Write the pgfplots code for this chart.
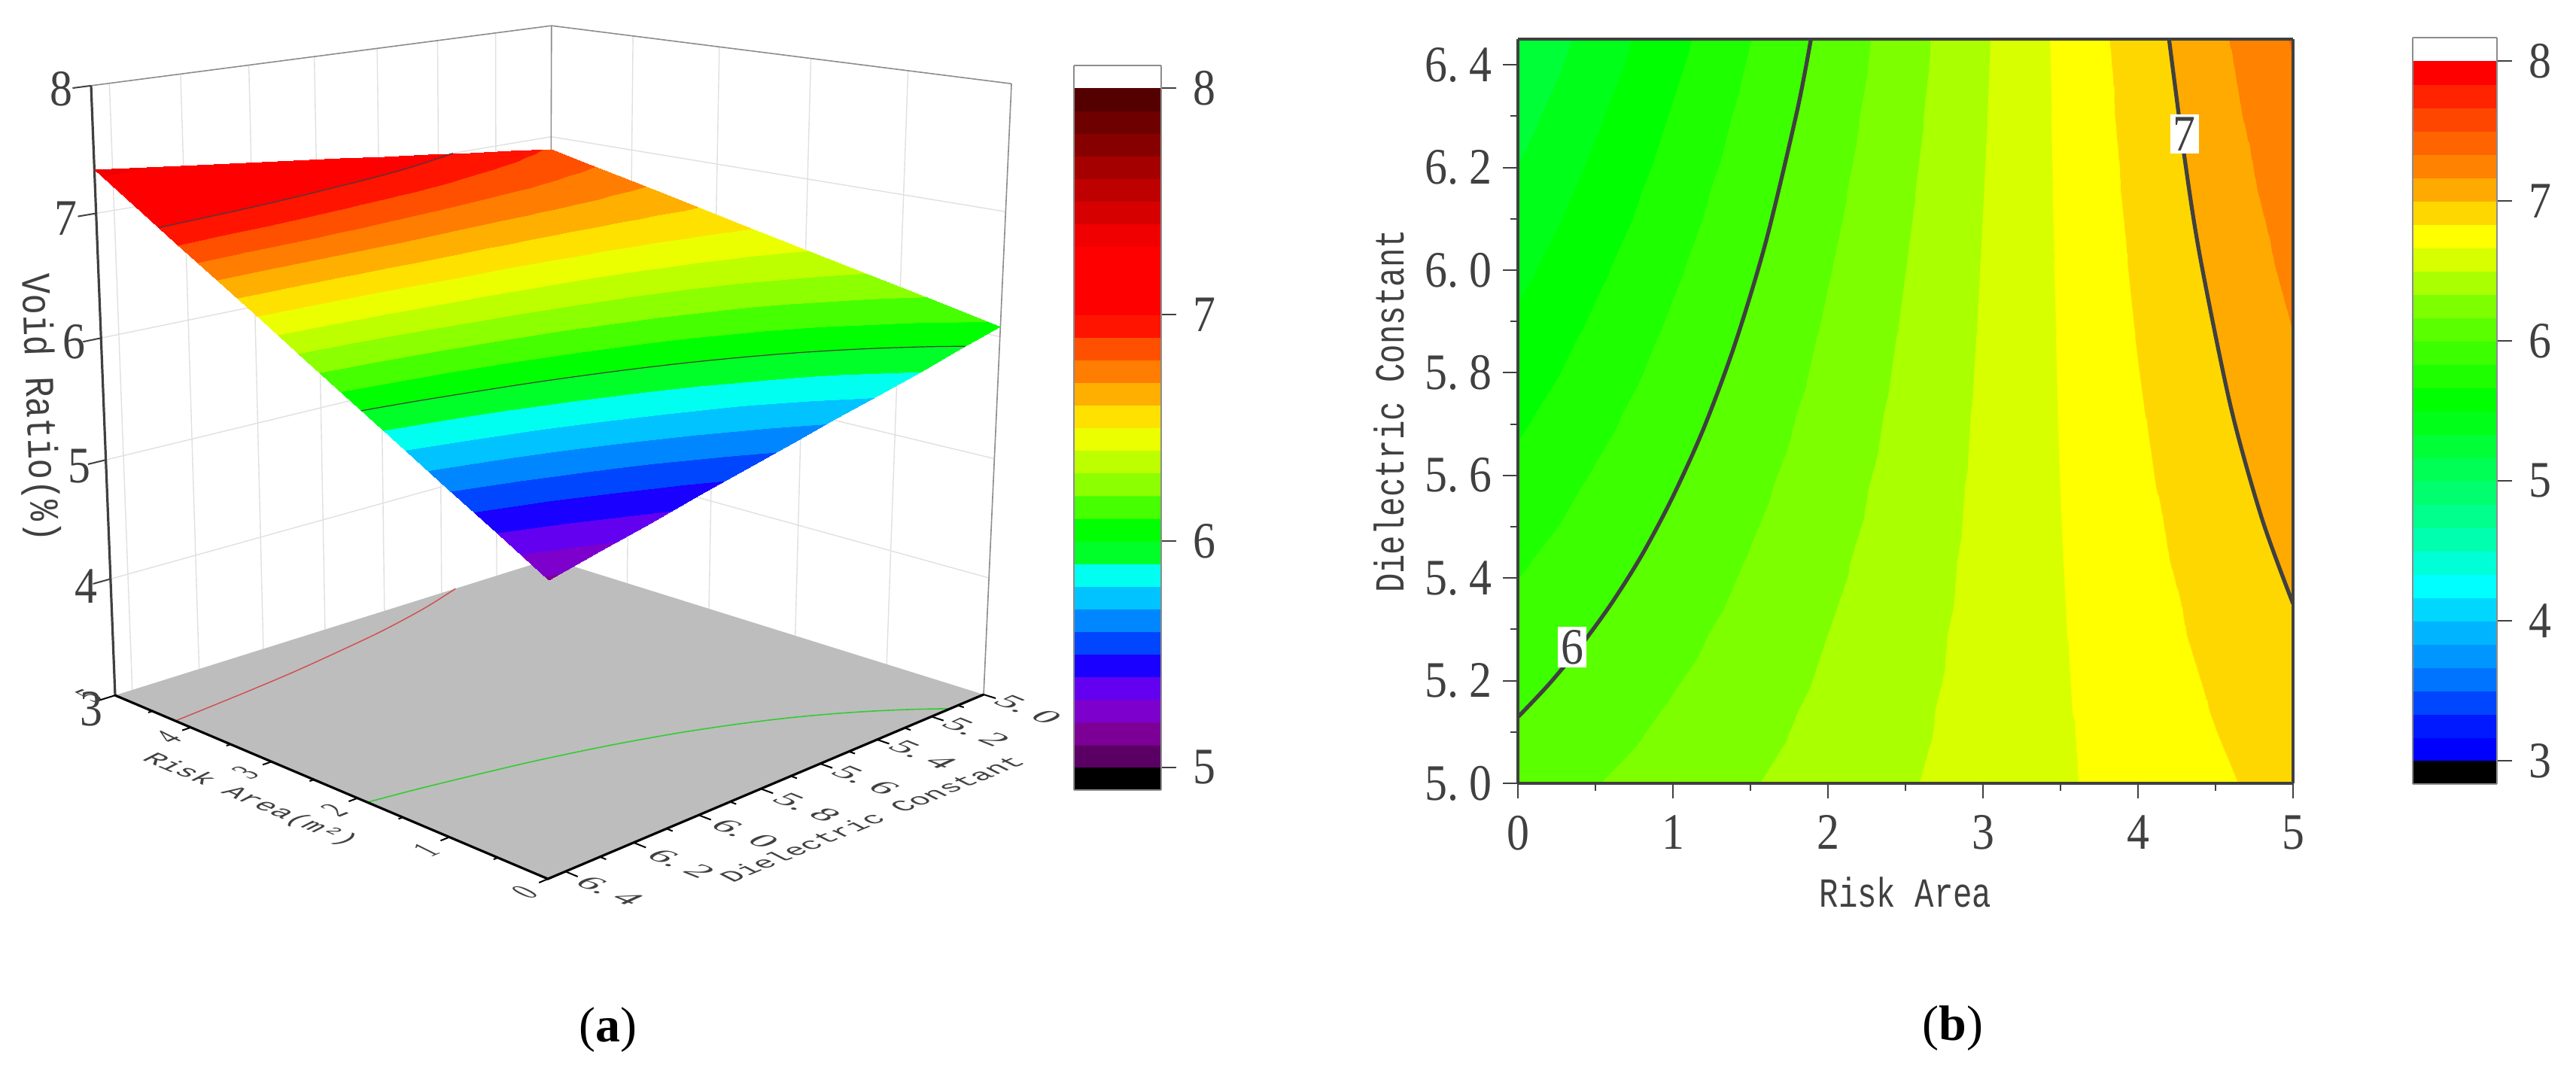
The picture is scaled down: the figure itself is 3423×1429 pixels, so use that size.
\documentclass[border=0pt]{standalone}
\usepackage{fontspec}
\setmainfont{Liberation Serif}
\newfontfamily\tkf[FakeStretch=0.88]{Liberation Serif}
\newfontfamily\txf[FakeStretch=0.77]{Liberation Mono}
\newfontfamily\vrf[FakeStretch=0.83]{Liberation Mono}
\newcommand{\tk}{\tkf\fontsize{17}{17}\selectfont}
\newcommand{\tx}{\txf\fontsize{13.75}{13.75}\selectfont}
\newcommand{\vr}{\vrf\fontsize{13.75}{13.75}\selectfont}
\newcommand{\dt}{.\hspace{0.22em}}
\usepackage{pgfplots}
\usepackage{pgfplotstable}
\pgfplotsset{compat=1.18}
\definecolor{ink}{gray}{0.25}
\definecolor{wallc}{gray}{0.88}
\definecolor{edgec}{gray}{0.55}
\pgfplotsset{
 colormap={voidA}{
 rgb255(0)=(90,0,100) rgb255(99)=(90,0,100)
 rgb255(100)=(125,0,150) rgb255(199)=(125,0,150)
 rgb255(200)=(125,0,205) rgb255(299)=(125,0,205)
 rgb255(300)=(100,0,240) rgb255(399)=(100,0,240)
 rgb255(400)=(25,0,255) rgb255(499)=(25,0,255)
 rgb255(500)=(0,70,255) rgb255(599)=(0,70,255)
 rgb255(600)=(0,135,255) rgb255(699)=(0,135,255)
 rgb255(700)=(0,195,255) rgb255(799)=(0,195,255)
 rgb255(800)=(0,255,240) rgb255(899)=(0,255,240)
 rgb255(900)=(0,255,40) rgb255(999)=(0,255,40)
 rgb255(1000)=(0,255,0) rgb255(1099)=(0,255,0)
 rgb255(1100)=(70,255,0) rgb255(1199)=(70,255,0)
 rgb255(1200)=(140,255,0) rgb255(1299)=(140,255,0)
 rgb255(1300)=(190,255,0) rgb255(1399)=(190,255,0)
 rgb255(1400)=(235,255,0) rgb255(1499)=(235,255,0)
 rgb255(1500)=(255,225,0) rgb255(1599)=(255,225,0)
 rgb255(1600)=(255,175,0) rgb255(1699)=(255,175,0)
 rgb255(1700)=(255,125,0) rgb255(1799)=(255,125,0)
 rgb255(1800)=(255,80,0) rgb255(1899)=(255,80,0)
 rgb255(1900)=(255,20,0) rgb255(1999)=(255,20,0)
 rgb255(2000)=(255,0,0) rgb255(2299)=(255,0,0)
 rgb255(2300)=(240,0,0) rgb255(2399)=(240,0,0)
 rgb255(2400)=(215,0,0) rgb255(2499)=(215,0,0)
 rgb255(2500)=(190,0,0) rgb255(2599)=(190,0,0)
 rgb255(2600)=(165,0,0) rgb255(2699)=(165,0,0)
 rgb255(2700)=(135,0,0) rgb255(2799)=(135,0,0)
 rgb255(2800)=(110,0,0) rgb255(2899)=(110,0,0)
 rgb255(2900)=(85,0,0) rgb255(3000)=(85,0,0)
 },
 colormap={voidB}{
 rgb255(0)=(0,0,255) rgb255(99)=(0,0,255)
 rgb255(100)=(0,25,255) rgb255(199)=(0,25,255)
 rgb255(200)=(0,70,255) rgb255(299)=(0,70,255)
 rgb255(300)=(0,115,255) rgb255(399)=(0,115,255)
 rgb255(400)=(0,150,255) rgb255(499)=(0,150,255)
 rgb255(500)=(0,180,255) rgb255(599)=(0,180,255)
 rgb255(600)=(0,215,255) rgb255(699)=(0,215,255)
 rgb255(700)=(0,255,255) rgb255(799)=(0,255,255)
 rgb255(800)=(0,255,215) rgb255(899)=(0,255,215)
 rgb255(900)=(0,255,175) rgb255(999)=(0,255,175)
 rgb255(1000)=(0,255,140) rgb255(1099)=(0,255,140)
 rgb255(1100)=(0,255,110) rgb255(1199)=(0,255,110)
 rgb255(1200)=(0,255,85) rgb255(1299)=(0,255,85)
 rgb255(1300)=(0,255,55) rgb255(1399)=(0,255,55)
 rgb255(1400)=(0,255,25) rgb255(1499)=(0,255,25)
 rgb255(1500)=(0,255,0) rgb255(1599)=(0,255,0)
 rgb255(1600)=(30,255,0) rgb255(1699)=(30,255,0)
 rgb255(1700)=(60,255,0) rgb255(1799)=(60,255,0)
 rgb255(1800)=(90,255,0) rgb255(1899)=(90,255,0)
 rgb255(1900)=(125,255,0) rgb255(1999)=(125,255,0)
 rgb255(2000)=(170,255,0) rgb255(2099)=(170,255,0)
 rgb255(2100)=(215,255,0) rgb255(2199)=(215,255,0)
 rgb255(2200)=(255,255,0) rgb255(2299)=(255,255,0)
 rgb255(2300)=(255,215,0) rgb255(2399)=(255,215,0)
 rgb255(2400)=(255,170,0) rgb255(2499)=(255,170,0)
 rgb255(2500)=(255,130,0) rgb255(2599)=(255,130,0)
 rgb255(2600)=(255,100,0) rgb255(2699)=(255,100,0)
 rgb255(2700)=(255,70,0) rgb255(2799)=(255,70,0)
 rgb255(2800)=(255,35,0) rgb255(2899)=(255,35,0)
 rgb255(2900)=(255,0,0) rgb255(3000)=(255,0,0)
 },
 pxax/.style={at={(0pt,0pt)},anchor=north west,scale only axis,width=855.75pt,height=357.25pt,
   xmin=0,xmax=3423,ymin=0,ymax=1429,y dir=reverse,hide axis,clip=false,
   declare function={
     dn(\a,\b,\c)=1+0.178*\a/5+0.176*(6.45-\b)/1.45-0.0664*(\c-3)/5;
     PX(\a,\b,\c)=(728-547.8*\a/5+809*(6.45-\b)/1.45-45.7*(\c-3)/5)/dn(\a,\b,\c);
     PY(\a,\b,\c)=(1168-79.5*\a/5-82.6*(6.45-\b)/1.45-962*(\c-3)/5)/dn(\a,\b,\c);
   }},
 cbar/.style={anchor=north west,scale only axis,view={0}{90},zmin=-1,zmax=1,
   xmin=0,xmax=1,xtick=\empty,ztick=\empty,ytick pos=right,yticklabel pos=right,
   tick align=outside,major tick length=5pt,enlargelimits=false,
   axis line style={draw=edgec,line width=0.6pt},tick style={draw=ink,line width=0.4pt},
   ticklabel style={font=\tk,text=ink},yticklabel style={xshift=2pt},
   /pgf/number format/assume math mode=true},
}
\newcommand{\PP}[2]{\addplot[#1] table[row sep=\\,
  x expr={PX(\thisrow{r},\thisrow{d},\thisrow{z})},
  y expr={PY(\thisrow{r},\thisrow{d},\thisrow{z})}] {r d z\\ #2};}
\pgfplotstableread{
risk dc void
0 5.000 6.080
0 5.145 5.990
0 5.290 5.900
0 5.435 5.810
0 5.580 5.720
0 5.725 5.631
0 5.870 5.541
0 6.015 5.451
0 6.160 5.361
0 6.305 5.271
0 6.450 5.181
0.5 5.000 6.161
0.5 5.145 6.085
0.5 5.290 6.008
0.5 5.435 5.932
0.5 5.580 5.856
0.5 5.725 5.779
0.5 5.870 5.703
0.5 6.015 5.627
0.5 6.160 5.550
0.5 6.305 5.474
0.5 6.450 5.397
1 5.000 6.242
1 5.145 6.179
1 5.290 6.116
1 5.435 6.054
1 5.580 5.991
1 5.725 5.928
1 5.870 5.865
1 6.015 5.802
1 6.160 5.740
1 6.305 5.677
1 6.450 5.614
1.5 5.000 6.323
1.5 5.145 6.274
1.5 5.290 6.225
1.5 5.435 6.175
1.5 5.580 6.126
1.5 5.725 6.077
1.5 5.870 6.027
1.5 6.015 5.978
1.5 6.160 5.929
1.5 6.305 5.880
1.5 6.450 5.830
2 5.000 6.404
2 5.145 6.368
2 5.290 6.333
2 5.435 6.297
2 5.580 6.261
2 5.725 6.225
2 5.870 6.190
2 6.015 6.154
2 6.160 6.118
2 6.305 6.082
2 6.450 6.047
2.5 5.000 6.485
2.5 5.145 6.463
2.5 5.290 6.441
2.5 5.435 6.418
2.5 5.580 6.396
2.5 5.725 6.374
2.5 5.870 6.352
2.5 6.015 6.330
2.5 6.160 6.308
2.5 6.305 6.285
2.5 6.450 6.263
3 5.000 6.566
3 5.145 6.557
3 5.290 6.549
3 5.435 6.540
3 5.580 6.531
3 5.725 6.523
3 5.870 6.514
3 6.015 6.506
3 6.160 6.497
3 6.305 6.488
3 6.450 6.480
3.5 5.000 6.647
3.5 5.145 6.652
3.5 5.290 6.657
3.5 5.435 6.662
3.5 5.580 6.667
3.5 5.725 6.672
3.5 5.870 6.676
3.5 6.015 6.681
3.5 6.160 6.686
3.5 6.305 6.691
3.5 6.450 6.696
4 5.000 6.728
4 5.145 6.746
4 5.290 6.765
4 5.435 6.783
4 5.580 6.802
4 5.725 6.820
4 5.870 6.839
4 6.015 6.857
4 6.160 6.876
4 6.305 6.894
4 6.450 6.912
4.5 5.000 6.809
4.5 5.145 6.841
4.5 5.290 6.873
4.5 5.435 6.905
4.5 5.580 6.937
4.5 5.725 6.969
4.5 5.870 7.001
4.5 6.015 7.033
4.5 6.160 7.065
4.5 6.305 7.097
4.5 6.450 7.129
5 5.000 6.890
5 5.145 6.936
5 5.290 6.981
5 5.435 7.027
5 5.580 7.072
5 5.725 7.118
5 5.870 7.163
5 6.015 7.209
5 6.160 7.254
5 6.305 7.300
5 6.450 7.345
}\surfdata
\pgfplotstableread{
r d z
0 5.129 6
0.2 5.193 6
0.4 5.266 6
0.6 5.349 6
0.8 5.445 6
1 5.559 6
1.2 5.693 6
1.4 5.856 6
1.6 6.056 6
1.8 6.309 6
1.89 6.45 6
}\contsix
\pgfplotstableread{
r d z
5 5.35 7
4.8 5.515 7
4.6 5.731 7
4.4 6.026 7
4.3 6.219 7
4.2 6.45 7
}\contseven
\newcommand{\sk}[7]{\begin{scope}[shift={(#1,#2)},cm={#3,#4,#5,#6,(0,0)}]\node[transform shape,inner sep=0pt,text=ink] at (0,0) {#7};\end{scope}}
\begin{document}
\begin{tikzpicture}[x=0.25pt,y=-0.25pt]
\path[use as bounding box] (0,0) rectangle (3423,1429);
% ---------- panel a: walls, floor, projected contours
\begin{axis}[pxax]
\PP{draw=wallc,line width=0.35pt}{5 6.4 3\\5 6.4 8\\}
\PP{draw=wallc,line width=0.35pt}{5 6.2 3\\5 6.2 8\\}
\PP{draw=wallc,line width=0.35pt}{5 6.0 3\\5 6.0 8\\}
\PP{draw=wallc,line width=0.35pt}{5 5.8 3\\5 5.8 8\\}
\PP{draw=wallc,line width=0.35pt}{5 5.6 3\\5 5.6 8\\}
\PP{draw=wallc,line width=0.35pt}{5 5.4 3\\5 5.4 8\\}
\PP{draw=wallc,line width=0.35pt}{5 5.2 3\\5 5.2 8\\}
\PP{draw=wallc,line width=0.35pt}{1 5 3\\1 5 8\\}
\PP{draw=wallc,line width=0.35pt}{2 5 3\\2 5 8\\}
\PP{draw=wallc,line width=0.35pt}{3 5 3\\3 5 8\\}
\PP{draw=wallc,line width=0.35pt}{4 5 3\\4 5 8\\}
\PP{draw=wallc,line width=0.35pt}{5 6.45 4\\5 5 4\\0 5 4\\}
\PP{draw=wallc,line width=0.35pt}{5 6.45 5\\5 5 5\\0 5 5\\}
\PP{draw=wallc,line width=0.35pt}{5 6.45 6\\5 5 6\\0 5 6\\}
\PP{draw=wallc,line width=0.35pt}{5 6.45 7\\5 5 7\\0 5 7\\}
\PP{draw=edgec,line width=0.4pt}{5 5 3\\5 5 8\\}
\PP{draw=edgec,line width=0.4pt}{0 5 3\\0 5 8\\}
\PP{draw=edgec,line width=0.4pt}{5 6.45 8\\5 5 8\\0 5 8\\}
\PP{fill=black!26,draw=none}{0 6.45 3\\5 6.45 3\\5 5 3\\0 5 3\\0 6.45 3\\}
\addplot[draw=red!75!black!70,line width=0.35pt,smooth] table[x expr={PX(\thisrow{r},\thisrow{d},3)},y expr={PY(\thisrow{r},\thisrow{d},3)}] {\contseven};
\addplot[draw=green!60!gray,line width=0.4pt,smooth] table[x expr={PX(\thisrow{r},\thisrow{d},3)},y expr={PY(\thisrow{r},\thisrow{d},3)}] {\contsix};
% axes and ticks
\PP{draw=black!75,line width=0.8pt}{5 6.45 3\\5 6.45 8\\}
\PP{draw=black,line width=0.8pt}{5 6.45 3\\0 6.45 3\\0 5 3\\}
\PP{draw=black!75,line width=0.5pt}{5 6.45 4\\5 6.5 4\\}
\PP{draw=black!75,line width=0.5pt}{5 6.45 5\\5 6.5 5\\}
\PP{draw=black!75,line width=0.5pt}{5 6.45 6\\5 6.5 6\\}
\PP{draw=black!75,line width=0.5pt}{5 6.45 7\\5 6.5 7\\}
\PP{draw=black!75,line width=0.5pt}{5 6.45 8\\5 6.5 8\\}
\PP{draw=black,line width=0.5pt}{5 6.45 3\\5 6.5 3\\}
\PP{draw=black,line width=0.5pt}{4 6.45 3\\4 6.475 3\\}
\PP{draw=black,line width=0.5pt}{3 6.45 3\\3 6.475 3\\}
\PP{draw=black,line width=0.5pt}{2 6.45 3\\2 6.475 3\\}
\PP{draw=black,line width=0.5pt}{1 6.45 3\\1 6.475 3\\}
\PP{draw=black,line width=0.5pt}{0 6.45 3\\0 6.475 3\\}
\PP{draw=black,line width=0.5pt}{4.5 6.45 3\\4.5 6.462 3\\}
\PP{draw=black,line width=0.5pt}{3.5 6.45 3\\3.5 6.462 3\\}
\PP{draw=black,line width=0.5pt}{2.5 6.45 3\\2.5 6.462 3\\}
\PP{draw=black,line width=0.5pt}{1.5 6.45 3\\1.5 6.462 3\\}
\PP{draw=black,line width=0.5pt}{0.5 6.45 3\\0.5 6.462 3\\}
\PP{draw=black,line width=0.5pt}{0 6.4 3\\-0.12 6.4 3\\}
\PP{draw=black,line width=0.5pt}{0 6.2 3\\-0.12 6.2 3\\}
\PP{draw=black,line width=0.5pt}{0 6.0 3\\-0.12 6.0 3\\}
\PP{draw=black,line width=0.5pt}{0 5.8 3\\-0.12 5.8 3\\}
\PP{draw=black,line width=0.5pt}{0 5.6 3\\-0.12 5.6 3\\}
\PP{draw=black,line width=0.5pt}{0 5.4 3\\-0.12 5.4 3\\}
\PP{draw=black,line width=0.5pt}{0 5.2 3\\-0.12 5.2 3\\}
\PP{draw=black,line width=0.5pt}{0 5.0 3\\-0.12 5.0 3\\}
\PP{draw=black,line width=0.5pt}{0 6.3 3\\-0.06 6.3 3\\}
\PP{draw=black,line width=0.5pt}{0 6.1 3\\-0.06 6.1 3\\}
\PP{draw=black,line width=0.5pt}{0 5.9 3\\-0.06 5.9 3\\}
\PP{draw=black,line width=0.5pt}{0 5.7 3\\-0.06 5.7 3\\}
\PP{draw=black,line width=0.5pt}{0 5.5 3\\-0.06 5.5 3\\}
\PP{draw=black,line width=0.5pt}{0 5.3 3\\-0.06 5.3 3\\}
\PP{draw=black,line width=0.5pt}{0 5.1 3\\-0.06 5.1 3\\}
\end{axis}
% ---------- panel a: surface
\begin{axis}[pxax,view={0}{90},zmin=-1,zmax=1,point meta min=5,point meta max=8,colormap name=voidA]
\addplot3[surf,shader=interp,mesh/rows=11,mesh/cols=11,point meta=\thisrow{void}]
 table[x expr={PX(\thisrow{risk},\thisrow{dc},\thisrow{void})},y expr={PY(\thisrow{risk},\thisrow{dc},\thisrow{void})},z expr=0] {\surfdata};
\end{axis}
% ---------- panel a: contour lines on the surface
\begin{axis}[pxax]
\addplot[draw=black!75,line width=0.3pt,smooth] table[x expr={PX(\thisrow{r},\thisrow{d},7)},y expr={PY(\thisrow{r},\thisrow{d},7)}] {\contseven};
\addplot[draw=black!75,line width=0.3pt,smooth] table[x expr={PX(\thisrow{r},\thisrow{d},6)},y expr={PY(\thisrow{r},\thisrow{d},6)}] {\contsix};
\end{axis}
% ---------- panel a: colour bar
\begin{axis}[cbar,at={(356.75pt,-21.75pt)},width=29pt,height=240.75pt,ymin=4.9,ymax=8.1,ytick={5,6,7,8},point meta min=5,point meta max=8,colormap name=voidA]
\addplot3[surf,shader=interp,mesh/rows=2,mesh/cols=2,point meta=\thisrow{v}] table[x=x,y=v,z expr=0,row sep=\\] {x v\\0 5\\1 5\\0 8\\1 8\\};
\draw[fill=black,draw=none] (axis cs:0,4.9,0) rectangle (axis cs:1,5,0);
\end{axis}
% ---------- panel b
\begin{axis}[at={(504.25pt,-13pt)},anchor=north west,scale only axis,width=257.5pt,height=247.25pt,
  view={0}{90},zmin=-1,zmax=9,ztick=\empty,xmin=0,xmax=5,ymin=5,ymax=6.45,enlargelimits=false,
  xtick={0,1,2,3,4,5},ytick={5,5.2,5.4,5.6,5.8,6,6.2,6.4},minor x tick num=1,minor y tick num=1,
  tick align=outside,major tick length=5pt,minor tick length=2.5pt,xtick pos=bottom,ytick pos=left,
  axis line style={draw=black!75,line width=1.2pt},tick style={draw=black!75,line width=0.5pt},
  ticklabel style={font=\tk,text=ink},xticklabel style={yshift=-2.2pt},
  yticklabel style={/pgf/number format/fixed,/pgf/number format/fixed zerofill,/pgf/number format/precision=1,
    /pgf/number format/set decimal separator={.\hspace{0.22em}}},
  /pgf/number format/assume math mode=true,
  xlabel={Risk Area},ylabel={Dielectric Constant},
  xlabel style={font=\tx,text=ink,at={(axis description cs:0.5,-0.1466)},anchor=center},
  ylabel style={font=\tx,text=ink,at={(axis description cs:-0.166,0.5)},anchor=center},
  point meta min=3,point meta max=8,colormap name=voidB,axis on top]
\addplot3[surf,shader=interp,mesh/rows=11,mesh/cols=11,point meta=\thisrow{void}]
 table[x=risk,y=dc,z expr=0] {\surfdata};
\addplot3[draw=black!75,line width=1.3pt,smooth] table[x=r,y=d,z expr=1] {\contsix};
\addplot3[draw=black!75,line width=1.3pt,smooth] table[x=r,y=d,z expr=1] {\contseven};
\node[fill=white,inner sep=1pt,font=\tk,text=ink] at (axis cs:0.35,5.265,2) {6};
\node[fill=white,inner sep=1pt,font=\tk,text=ink] at (axis cs:4.3,6.265,2) {7};
\end{axis}
% ---------- panel b: colour bar
\begin{axis}[cbar,at={(801.5pt,-12.5pt)},width=28pt,height=248pt,ymin=2.8333,ymax=8.1667,ytick={3,4,5,6,7,8},point meta min=3,point meta max=8,colormap name=voidB]
\addplot3[surf,shader=interp,mesh/rows=2,mesh/cols=2,point meta=\thisrow{v}] table[x=x,y=v,z expr=0,row sep=\\] {x v\\0 3\\1 3\\0 8\\1 8\\};
\draw[fill=black,draw=none] (axis cs:0,2.8333,0) rectangle (axis cs:1,3,0);
\end{axis}
% ---------- panel a: texts
\node[text=ink,font=\tk] at (81,118) {8};
\node[text=ink,font=\tk] at (87,290) {7};
\node[text=ink,font=\tk] at (98,454) {6};
\node[text=ink,font=\tk] at (105,620) {5};
\node[text=ink,font=\tk] at (114,779) {4};
\node[text=ink,font=\tk] at (121,942) {3};
\node[text=ink,font=\vr,rotate=-88] at (50,542) {Void Ratio(\%)};
\sk{697}{1186}{0.5}{0.2}{-0.6}{0.3}{\tk 0}
\sk{566}{1130}{0.5}{0.2}{-0.6}{0.3}{\tk 1}
\sk{444}{1077}{0.5}{0.2}{-0.6}{0.3}{\tk 2}
\sk{326}{1027}{0.5}{0.2}{-0.6}{0.3}{\tk 3}
\sk{223}{980}{0.5}{0.2}{-0.6}{0.3}{\tk 4}
\sk{118}{925}{0.5}{0.2}{-0.6}{0.3}{\tk 5}
\sk{810}{1184}{0.82}{-0.33}{0.55}{0.25}{\tk 6\dt 4}
\sk{905}{1148}{0.82}{-0.33}{0.55}{0.25}{\tk 6\dt 2}
\sk{990}{1108}{0.82}{-0.33}{0.55}{0.25}{\tk 6\dt 0}
\sk{1072}{1073}{0.82}{-0.33}{0.55}{0.25}{\tk 5\dt 8}
\sk{1150}{1037}{0.82}{-0.33}{0.55}{0.25}{\tk 5\dt 6}
\sk{1226}{1003}{0.82}{-0.33}{0.55}{0.25}{\tk 5\dt 4}
\sk{1297}{973}{0.82}{-0.33}{0.55}{0.25}{\tk 5\dt 2}
\sk{1366}{943}{0.82}{-0.33}{0.55}{0.25}{\tk 5\dt 0}
\sk{332}{1063}{0.83}{-0.35}{0.55}{0.28}{\tx Risk Area(m²)}
\sk{1158}{1088}{0.81}{0.33}{-0.55}{0.28}{\tx Dielectric Constant}
\node[font=\fontsize{16.5}{16.5}\selectfont] at (808,1369) {(\textbf{a})};
\node[font=\fontsize{16.5}{16.5}\selectfont] at (2595,1367) {(\textbf{b})};
\end{tikzpicture}
\end{document}
